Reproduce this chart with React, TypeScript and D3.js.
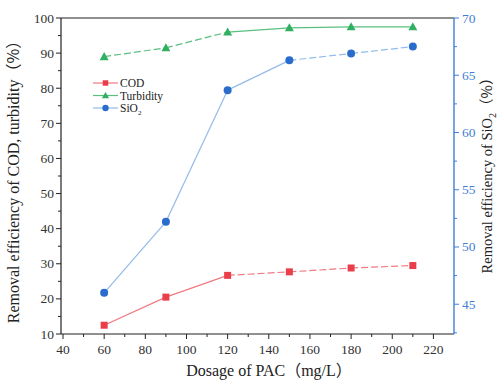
import * as d3 from "d3";

const dosage = [60, 90, 120, 150, 180, 210];
const codValues = [12.5, 20.5, 26.7, 27.7, 28.8, 29.5];
const turbidityValues = [89, 91.5, 96, 97.2, 97.5, 97.5];
const sio2Values = [46.0, 52.2, 63.7, 66.3, 66.9, 67.5];
const xTicks = [40, 60, 80, 100, 120, 140, 160, 180, 200, 220];
const leftTicks = [10, 20, 30, 40, 50, 60, 70, 80, 90, 100];
const rightTicks = [45, 50, 55, 60, 65, 70];

// which segments of each line are dashed (index of segment start)
const codDashed = [2, 3, 4];
const turbDashed = [0, 1];
const sio2Dashed = [3, 4];

const W = 497;
const H = 383;
const left = 61;
const right = 454;
const top = 18;
const bottom = 334;
const font = "'Liberation Serif', 'Times New Roman', serif";
const blueAxis = "#3f7fd6";

export default function App() {
  const x = d3.scaleLinear().domain([40, 230]).range([left + 2, right]);
  const yL = d3.scaleLinear().domain([10, 100]).range([bottom, top]);
  const yR = d3.scaleLinear().domain([42.4, 70]).range([bottom, top]);

  const xMinor = d3.range(50, 230, 20);
  const lMinor = d3.range(15, 100, 10);
  const rMinor = d3.range(42.5, 70, 5);

  const segs = (vals: number[], y: d3.ScaleLinear<number, number>, dashed: number[], color: string) =>
    vals.slice(0, -1).map((v, i) => (
      <line
        key={i}
        x1={x(dosage[i])}
        y1={y(v)}
        x2={x(dosage[i + 1])}
        y2={y(vals[i + 1])}
        stroke={color}
        strokeWidth={1.2}
        strokeDasharray={dashed.includes(i) ? "7,3" : undefined}
      />
    ));

  const square = (cx: number, cy: number, k: any, s = 7) => (
    <rect key={k} x={cx - s / 2} y={cy - s / 2} width={s} height={s} fill="#ea3f4b" />
  );
  const tri = (cx: number, cy: number, k: any, s = 4.5) => (
    <path key={k} d={`M${cx},${cy - s}L${cx + s},${cy + s * 0.78}L${cx - s},${cy + s * 0.78}Z`} fill="#32b061" />
  );
  const circ = (cx: number, cy: number, k: any, s = 4) => (
    <circle key={k} cx={cx} cy={cy} r={s} fill="#2a6ccc" />
  );

  const legend = [
    { label: "COD", line: "#f07a80", mark: (a: number, b: number) => square(a, b, "m", 5.5), y: 83 },
    { label: "Turbidity", line: "#5cbf80", mark: (a: number, b: number) => tri(a, b, "m", 3.6), y: 95.5 },
    { label: "SiO", line: "#93bbea", mark: (a: number, b: number) => circ(a, b, "m", 3.2), y: 108 },
  ];

  return (
    <svg width={W} height={H} style={{ position: "absolute", left: 0, top: 0, background: "#fff" }} fontFamily={font}>
      {/* frame */}
      <line x1={left} y1={top} x2={right} y2={top} stroke="#222" strokeWidth={1.2} />
      <line x1={left} y1={top} x2={left} y2={bottom} stroke="#222" strokeWidth={1.2} />
      <line x1={left} y1={bottom} x2={right} y2={bottom} stroke="#222" strokeWidth={1.2} />
      <line x1={right} y1={top} x2={right} y2={bottom} stroke={blueAxis} strokeWidth={1.4} />

      {/* x axis */}
      {xTicks.map((t) => (
        <g key={t}>
          <line x1={x(t)} x2={x(t)} y1={bottom} y2={bottom + 5} stroke="#222" />
          <text x={x(t)} y={bottom + 20} textAnchor="middle" fontSize={13.5} fill="#333">{t}</text>
        </g>
      ))}
      {xMinor.map((t) => (
        <line key={t} x1={x(t)} x2={x(t)} y1={bottom} y2={bottom + 3} stroke="#222" />
      ))}
      <text x={269} y={376} textAnchor="middle" fontSize={16} fill="#222">
        Dosage of PAC<tspan fontFamily="'Noto Sans CJK SC'">（</tspan>mg/L<tspan fontFamily="'Noto Sans CJK SC'">）</tspan>
      </text>

      {/* left axis */}
      {leftTicks.map((t) => (
        <g key={t}>
          <line x1={left - 5} x2={left} y1={yL(t)} y2={yL(t)} stroke="#222" />
          <text x={left - 7} y={yL(t) + 4.5} textAnchor="end" fontSize={13.5} fill="#333">{t}</text>
        </g>
      ))}
      {lMinor.map((t) => (
        <line key={t} x1={left - 3} x2={left} y1={yL(t)} y2={yL(t)} stroke="#222" />
      ))}
      <text transform={`translate(19,178) rotate(-90)`} textAnchor="middle" fontSize={16} fill="#222">
        Removal efficiency of COD, turbidity<tspan fontFamily="'Noto Sans CJK SC'">（%）</tspan>
      </text>

      {/* right axis */}
      {rightTicks.map((t) => (
        <g key={t}>
          <line x1={right} x2={right + 5} y1={yR(t)} y2={yR(t)} stroke={blueAxis} />
          <text x={right + 8} y={yR(t) + 4.5} fontSize={13.5} fill={blueAxis}>{t}</text>
        </g>
      ))}
      {rMinor.map((t) => (
        <line key={t} x1={right} x2={right + 3} y1={yR(t)} y2={yR(t)} stroke={blueAxis} />
      ))}
      <text transform={`translate(492,172) rotate(-90)`} textAnchor="middle" fontSize={14.5} fill="#222">
        Removal efficiency of SiO<tspan fontSize={10} dy={4}>2</tspan>
        <tspan dy={-4} fontFamily="'Noto Sans CJK SC'">（%）</tspan>
      </text>

      {/* series */}
      {segs(turbidityValues, yL, turbDashed, "#5cbf80")}
      {segs(sio2Values, yR, sio2Dashed, "#93bbea")}
      {segs(codValues, yL, codDashed, "#f07a80")}
      {turbidityValues.map((v, i) => tri(x(dosage[i]), yL(v), i))}
      {sio2Values.map((v, i) => circ(x(dosage[i]), yR(v), i))}
      {codValues.map((v, i) => square(x(dosage[i]), yL(v), i))}

      {/* legend */}
      {legend.map((l, i) => (
        <g key={i}>
          <line x1={93} x2={118} y1={l.y} y2={l.y} stroke={l.line} strokeWidth={1.2} />
          {l.mark(105.5, l.y)}
          <text x={120} y={l.y + 4} fontSize={11.5} fill="#222">
            {l.label}
            {i === 2 ? <tspan fontSize={7} dy={3}>2</tspan> : null}
          </text>
        </g>
      ))}
    </svg>
  );
}
